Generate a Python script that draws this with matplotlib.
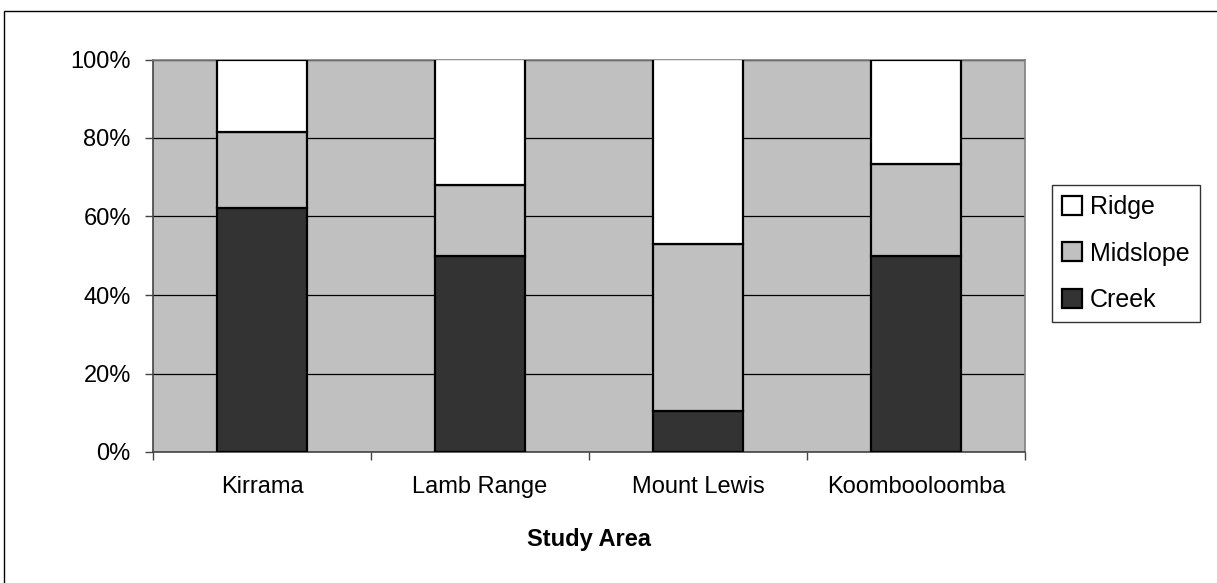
import numpy as np
from matplotlib import pyplot as plt
from matplotlib.patches import Rectangle

plt.rcParams['font.family'] = ['Liberation Sans', 'DejaVu Sans']

areas = ['Kirrama', 'Lamb Range', 'Mount Lewis', 'Koombooloomba']
creek = [62.2, 50.0, 10.5, 50.0]
midslope = [19.4, 18.0, 42.4, 23.3]
ridge = [18.4, 32.0, 47.1, 26.7]

series = ['Creek', 'Midslope', 'Ridge']
colors = ['#333333', '#c0c0c0', '#ffffff']

fig = plt.figure(figsize=(12.17, 5.83), dpi=100)
ax = fig.add_axes([153/1217, 1 - 452/583, (1025-153)/1217, (452-59.5)/583])
ax.set_facecolor('#c0c0c0')

x = np.arange(len(areas))
bottom = np.zeros(len(areas))
handles = []
for vals, col, name in zip([creek, midslope, ridge], colors, series):
    b = ax.bar(x, vals, width=0.41, bottom=bottom, color=col,
               edgecolor='black', linewidth=1.6, label=name, zorder=3)
    handles.append(b)
    bottom += np.array(vals)

ax.set_xlim(-0.5, len(areas) - 0.5)
ax.set_ylim(0, 100)
ax.set_yticks(np.arange(0, 101, 20))
ax.set_yticklabels([f'{v}%' for v in range(0, 101, 20)], fontsize=17)
ax.yaxis.grid(True, color='black', linewidth=0.9, zorder=1)
ax.set_axisbelow(True)

ax.set_xticks(x)
ax.set_xticklabels(areas, fontsize=17)
ax.set_xticks(np.arange(-0.5, len(areas)), minor=True)
ax.tick_params(axis='x', which='major', length=0, pad=17)
ax.tick_params(axis='x', which='minor', length=6, width=1, color='#444444')
ax.tick_params(axis='y', length=6, width=1, color='#444444', pad=10)

for s in ['left', 'bottom']:
    ax.spines[s].set_color('#444444')
    ax.spines[s].set_linewidth(1.2)
for s in ['top', 'right']:
    ax.spines[s].set_color('#808080')
    ax.spines[s].set_linewidth(1.2)

ax.set_xlabel('Study Area', fontsize=17, fontweight='bold', labelpad=22)

leg = ax.legend(handles[::-1], series[::-1], loc='upper left',
                bbox_to_anchor=(1052/1217, 1 - 185/583), bbox_transform=fig.transFigure,
                fontsize=18, frameon=True, fancybox=False, edgecolor='black',
                handlelength=0.8, handleheight=0.8, handletextpad=0.32,
                labelspacing=0.9, borderpad=0.4, borderaxespad=0)
leg.get_frame().set_linewidth(1)

# outer chart border
fig.patches.append(Rectangle((4/1217, -0.1), 1.2, 1 - 11/583 + 0.1, transform=fig.transFigure,
                             fill=False, edgecolor='black', linewidth=1))

fig.savefig('out.png', dpi=100)
